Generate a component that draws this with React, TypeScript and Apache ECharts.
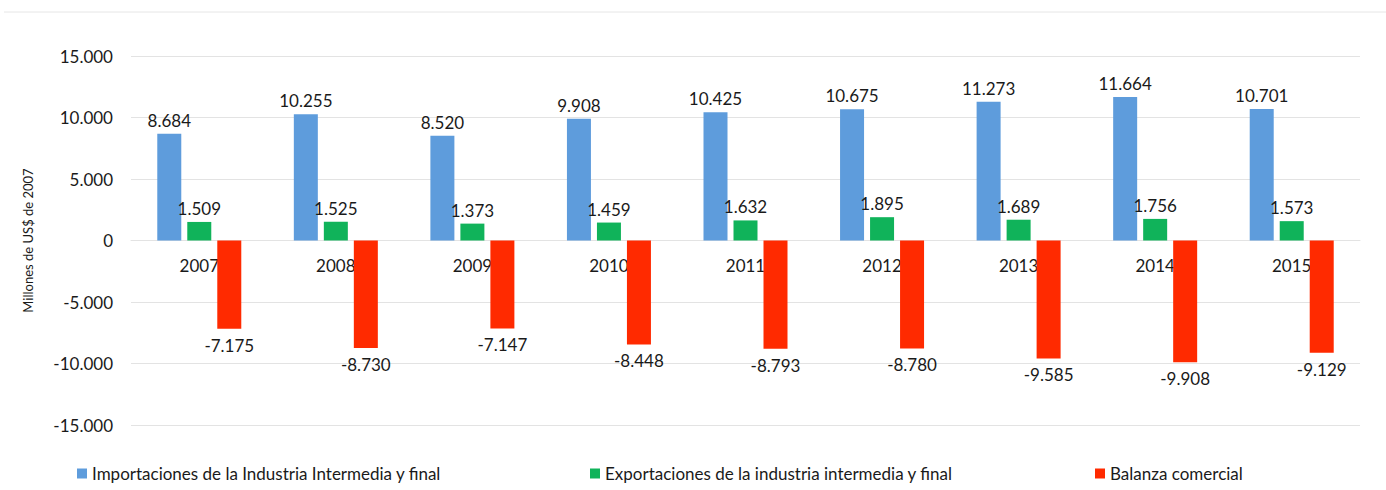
import React, { useEffect, useRef } from "react";
import * as echarts from "echarts";

const years = ["2007", "2008", "2009", "2010", "2011", "2012", "2013", "2014", "2015"];
const importaciones = [8684, 10255, 8520, 9908, 10425, 10675, 11273, 11664, 10701];
const exportaciones = [1509, 1525, 1373, 1459, 1632, 1895, 1689, 1756, 1573];
const balanza = [-7175, -8730, -7147, -8448, -8793, -8780, -9585, -9908, -9129];
const seriesNames = [
  "Importaciones de la Industria Intermedia y final",
  "Exportaciones de la industria intermedia y final",
  "Balanza comercial",
];
const colors = ["#5E9CDC", "#10B35A", "#FF2A00"];

const FONT = "Lato, 'Open Sans', sans-serif";

function fmt(v: number): string {
  const s = Math.abs(v).toString();
  const withDots = s.replace(/\B(?=(\d{3})+(?!\d))/g, ".");
  return (v < 0 ? "-" : "") + withDots;
}

export default function App() {
  const ref = useRef<HTMLDivElement>(null);
  useEffect(() => {
    if (!ref.current) return;
    const chart = echarts.init(ref.current, undefined, { renderer: "svg" });
    const labelStyle = { color: "#1a1a1a", fontSize: 17, fontFamily: FONT };
    const mk = (i: number, data: number[]) => ({
      name: seriesNames[i],
      type: "bar",
      data,
      barWidth: 24,
      barGap: "25%",
      itemStyle: { color: colors[i] },
      label: {
        show: true,
        position: i === 2 ? "bottom" : "top",
        distance: i === 2 ? 8 : 5,
        formatter: (p: any) => fmt(p.value),
        ...labelStyle,
      },
    });
    chart.setOption({
      animation: false,
      backgroundColor: "#ffffff",
      grid: { left: 131, right: 26, top: 56, height: 369, containLabel: false },
      legend: [0, 1, 2].map((i) => ({
        data: [seriesNames[i]],
        left: [72, 585, 1090][i],
        top: 460,
        icon: "rect",
        itemWidth: 10,
        itemHeight: 10,
        itemGap: 5,
        selectedMode: false,
        textStyle: { color: "#1a1a1a", fontSize: 17, fontFamily: FONT },
      })),
      xAxis: {
        type: "category",
        data: years,
        position: "bottom",
        offset: -184.5,
        axisLine: { onZero: false, lineStyle: { color: "#e3e3e3" } },
        axisTick: { show: false },
        axisLabel: { color: "#1a1a1a", fontSize: 17, fontFamily: FONT, margin: 16 },
      },
      yAxis: {
        type: "value",
        min: -15000,
        max: 15000,
        interval: 5000,
        name: "Millones de US$ de 2007",
        nameLocation: "middle",
        nameGap: 97,
        nameTextStyle: { color: "#1a1a1a", fontSize: 13, fontFamily: FONT },
        axisLine: { show: false },
        axisTick: { show: false },
        axisLabel: {
          color: "#1a1a1a",
          fontSize: 17,
          fontFamily: FONT,
          margin: 18,
          formatter: (v: number) => fmt(v),
        },
        splitLine: { lineStyle: { color: "#e3e3e3" } },
      },
      graphic: [
        {
          type: "line",
          shape: { x1: 4, y1: 12, x2: 1386, y2: 12 },
          style: { stroke: "#e6e6e6", lineWidth: 1 },
        },
      ],
      series: [mk(0, importaciones), mk(1, exportaciones), mk(2, balanza)],
    });
    return () => chart.dispose();
  }, []);
  return (
    <div
      ref={ref}
      style={{ position: "fixed", left: 0, top: 0, width: 1386, height: 490, background: "#fff" }}
    />
  );
}
